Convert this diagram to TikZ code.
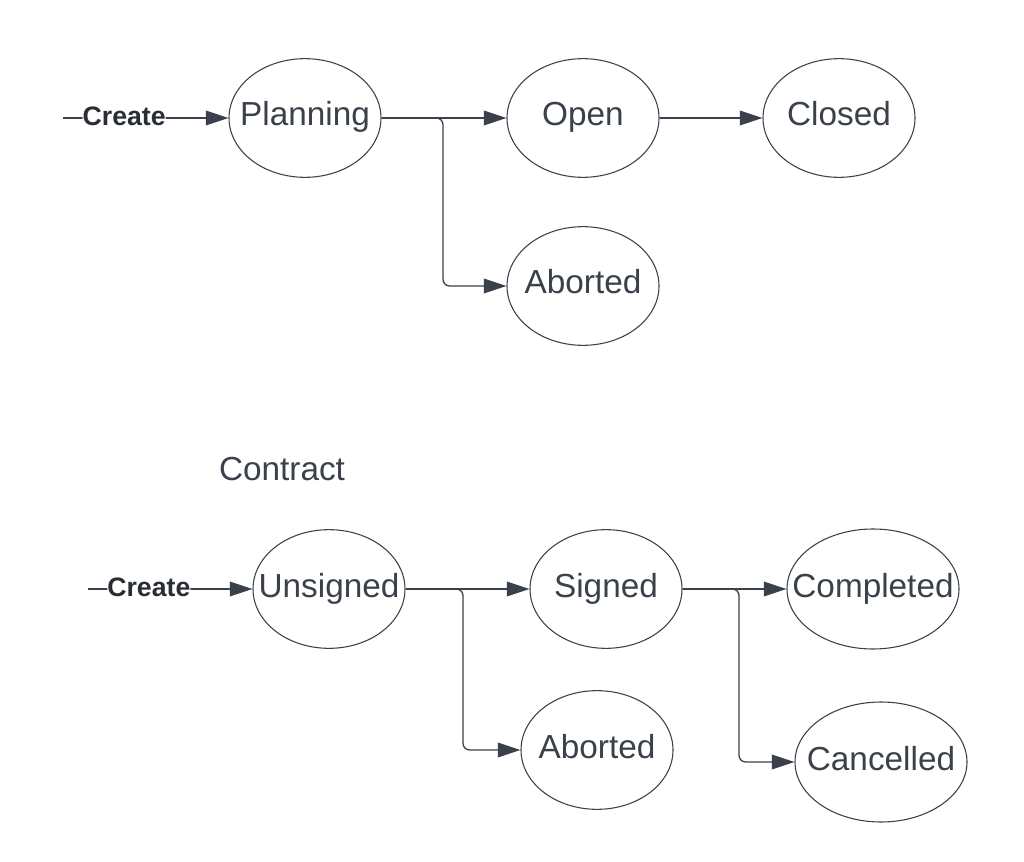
\documentclass[tikz,border=0pt]{standalone}
\usepackage{fontspec}
\setmainfont{Liberation Sans}
\usetikzlibrary{shapes.geometric, arrows.meta}
\definecolor{ink}{RGB}{58,65,74}

\begin{document}
\begin{tikzpicture}[%
        x = 0.75pt, y = -0.75pt,
        state/.style = {%
            ellipse, draw = ink, line width = 0.8pt,
            minimum width = 114pt, minimum height = 89pt,
            inner sep = 0pt
        },
        widestate/.style = {%
            state, minimum width = 129pt, minimum height = 90pt
        },
        statetext/.style = {%
            inner sep = 0pt, text height = 17pt, text depth = 5pt,
            text = ink, font = \fontsize{25}{30}\selectfont
        },
        flow/.style = {%
            draw = ink, line width = 1pt, rounded corners = 5pt,
            -{Triangle[length = 17pt, width = 11pt]}
        },
        trigger/.style = {%
            fill = white, inner sep = 0pt, pos = 0.37, yshift = 1.5pt,
            text = ink!70!black, font = \bfseries\fontsize{20}{24}\selectfont
        }
    ]

        \useasboundingbox (0, 0) rectangle (1024, 862);

        % Upper chart: the states.
        \node[state, label = {[statetext]center:Planning}] (planning) at (305, 118) {};
        \node[state, label = {[statetext]center:Open}] (open) at (583, 118) {};
        \node[state, label = {[statetext]center:Closed}] (closed) at (839, 118) {};
        \node[state, label = {[statetext]center:Aborted}] (abortedA) at (583, 286) {};

        % Where the upper chart starts and splits.
        \coordinate (startA) at (63, 118);
        \coordinate (splitA) at (443, 118);

        % Upper chart: the transitions.
        \draw[flow] (startA) -- node[trigger] (createA) {Create} (planning);
        \draw[flow] (planning) -- (open);
        \draw[flow] (planning.east) -- (splitA) |- (abortedA.west);
        \draw[flow] (open) -- (closed);

        % Title of the lower chart.
        \node[text = ink, font = \fontsize{25}{30}\selectfont] (contract) at (282, 469) {Contract};

        % Lower chart: the states.
        \node[state, label = {[statetext]center:Unsigned}] (unsigned) at (329, 589) {};
        \node[state, label = {[statetext]center:Signed}] (signed) at (606, 589) {};
        \node[state, label = {[statetext]center:Aborted}] (abortedB) at (597, 750) {};
        \node[widestate, label = {[statetext]center:Completed}] (completed) at (873, 589) {};
        \node[widestate, label = {[statetext]center:Cancelled}] (cancelled) at (881, 762) {};

        % Where the lower chart starts and splits.
        \coordinate (startB) at (88, 589);
        \coordinate (splitB) at (463, 589);
        \coordinate (splitC) at (739, 589);

        % Lower chart: the transitions.
        \draw[flow] (startB) -- node[trigger] (createB) {Create} (unsigned);
        \draw[flow] (unsigned) -- (signed);
        \draw[flow] (unsigned.east) -- (splitB) |- (abortedB.west);
        \draw[flow] (signed) -- (completed);
        \draw[flow] (signed.east) -- (splitC) |- (cancelled.west);
    \end{tikzpicture}
\end{document}
